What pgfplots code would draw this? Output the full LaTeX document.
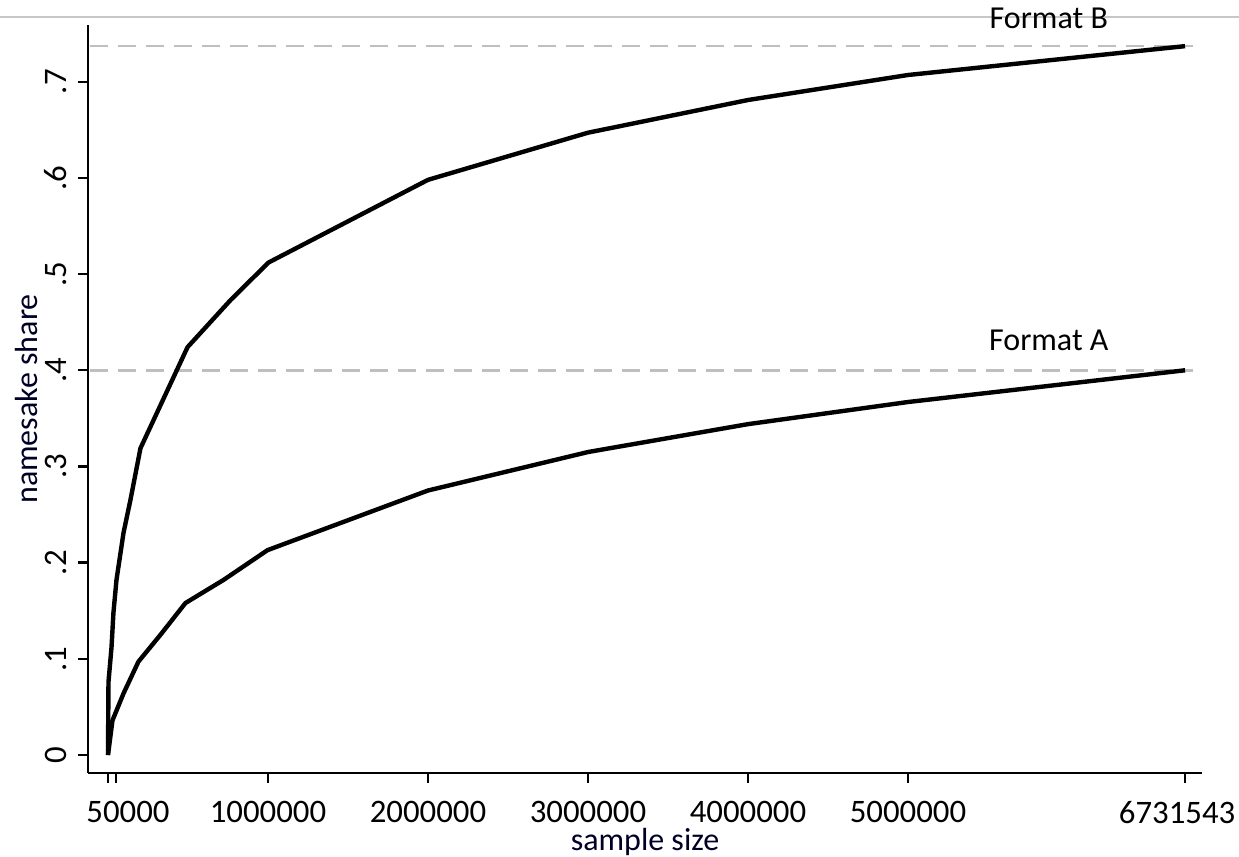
\documentclass[border=0pt]{standalone}
\usepackage{pgfplots}
\pgfplotsset{compat=1.18}
\usepackage{fontspec}
\setmainfont{Carlito}
\begin{document}
\begin{tikzpicture}
\path[use as bounding box] (0,0) rectangle (619.5pt,428.5pt);
\draw[black!22, line width=0.7pt] (0,420pt) -- (619.5pt,420pt);
\begin{axis}[
  at={(44pt,42pt)}, anchor=south west,
  scale only axis, width=557pt, height=374pt,
  xmin=-125000, xmax=6837500, ymin=-0.0187, ymax=0.759,
  axis x line*=bottom, axis y line*=left,
  axis line style={line width=1.3pt, black},
  tick align=outside, major tick length=5pt,
  tick style={line width=1.2pt, black},
  xtick={0,50000,1000000,2000000,3000000,4000000,5000000,6731543},
  xticklabels={,\makebox[0pt]{\hspace*{12pt}50000},1000000,2000000,3000000,4000000,5000000,\makebox[0pt]{\hspace*{-8pt}6731543}},
  ytick={0,0.1,0.2,0.3,0.4,0.5,0.6,0.7},
  yticklabels={0,.1,.2,.3,.4,.5,.6,.7},
  scaled x ticks=false, scaled y ticks=false,
  /pgf/number format/assume math mode=true,
  ticklabel style={font=\fontsize{16.4}{19}\selectfont, text=black, inner sep=1pt},
  xticklabel style={yshift=-8pt},
  yticklabel style={rotate=90, anchor=south, yshift=4.5pt},
  xlabel={sample size}, ylabel={namesake share},
  label style={font=\fontsize{16}{19}\selectfont, text=black!85!blue, inner sep=0pt},
  xlabel style={at={(axis description cs:0.5,-0.092)}, anchor=center},
  ylabel style={at={(axis description cs:-0.0548,0.5)}, anchor=center},
  clip=false,
]
\addplot[black!25, line width=1.3pt, dash pattern=on 9pt off 5pt] coordinates {(-112500,0.737) (6781000,0.737)};
\addplot[black!25, line width=1.3pt, dash pattern=on 9pt off 5pt] coordinates {(-112500,0.400) (6781000,0.400)};
\addplot[black, line width=2.2pt, line join=round] coordinates {
(0,0) (3000,0.076) (22000,0.112) (34000,0.148) (53000,0.182) (97000,0.231) (140000,0.265)
(203000,0.319) (497000,0.424) (766000,0.473) (1003000,0.512) (2000000,0.598)
(3000000,0.647) (4000000,0.681) (5000000,0.707) (6731543,0.737)};
\addplot[black, line width=2.2pt, line join=round] coordinates {
(0,0) (28000,0.036) (97000,0.064) (190000,0.097) (328000,0.125) (484000,0.158)
(722000,0.182) (997000,0.213) (2000000,0.275) (3000000,0.315) (4000000,0.344)
(5000000,0.367) (6731543,0.400)};
\node[font=\fontsize{16}{19}\selectfont, black] at (axis cs:5880000,0.766) {Format B};
\node[font=\fontsize{16}{19}\selectfont, black] at (axis cs:5880000,0.4314) {Format A};
\end{axis}
\end{tikzpicture}
\end{document}
